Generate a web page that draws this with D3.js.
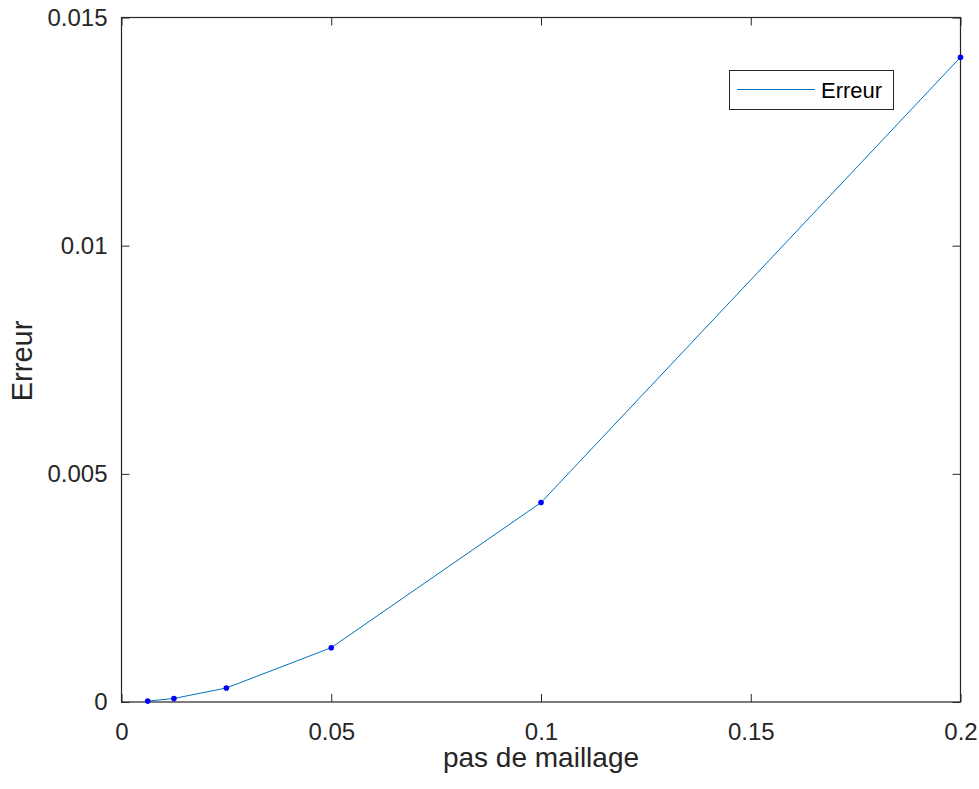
<!DOCTYPE html>
<html>
<head>
<meta charset="utf-8">
<script src="https://cdn.jsdelivr.net/npm/d3@7"></script>
<style>
  html, body { margin: 0; padding: 0; background: #fff; }
  svg { display: block; font-family: "Liberation Sans", Arial, sans-serif; }
</style>
</head>
<body>
<svg id="chart" width="979" height="789"></svg>
<script>
// Mesh step sizes and the corresponding error
const meshSteps = [0.00625, 0.0125, 0.025, 0.05, 0.1, 0.2];
const errors = [0.0000194, 0.0000775, 0.000307, 0.00119, 0.00437, 0.01413];
const xTicks = [0, 0.05, 0.1, 0.15, 0.2];
const yTicks = [0, 0.005, 0.01, 0.015];
const xTickLabels = ["0", "0.05", "0.1", "0.15", "0.2"];
const yTickLabels = ["0", "0.005", "0.01", "0.015"];
const seriesName = "Erreur";
const xLabel = "pas de maillage";
const yLabel = "Erreur";

(function () {
  const svg = d3.select("#chart");
  const pLeft = 121.5, pRight = 960.5, pTop = 17.5, pBottom = 702;

  const x = d3.scaleLinear().domain([0, 0.2]).range([pLeft, pRight]);
  const y = d3.scaleLinear().domain([0, 0.015]).range([pBottom, pTop]);

  const axisColor = "#262626";
  const tickLen = 8;

  // Plot box
  svg.append("rect")
    .attr("x", pLeft).attr("y", pTop)
    .attr("width", pRight - pLeft).attr("height", pBottom - pTop)
    .attr("fill", "#fff").attr("stroke", axisColor).attr("stroke-width", 1.2);

  // Axes with inward ticks on all four sides
  const fmtX = (d, i) => xTickLabels[i];
  const fmtY = (d, i) => yTickLabels[i];

  const gB = svg.append("g").attr("transform", `translate(0,${pBottom})`)
    .call(d3.axisBottom(x).tickValues(xTicks).tickFormat(fmtX).tickSizeInner(-tickLen).tickSizeOuter(0).tickPadding(21));
  const gT = svg.append("g").attr("transform", `translate(0,${pTop})`)
    .call(d3.axisTop(x).tickValues(xTicks).tickFormat("").tickSizeInner(-tickLen).tickSizeOuter(0));
  const gL = svg.append("g").attr("transform", `translate(${pLeft},0)`)
    .call(d3.axisLeft(y).tickValues(yTicks).tickFormat(fmtY).tickSizeInner(-tickLen).tickSizeOuter(0).tickPadding(14));
  const gR = svg.append("g").attr("transform", `translate(${pRight},0)`)
    .call(d3.axisRight(y).tickValues(yTicks).tickFormat("").tickSizeInner(-tickLen).tickSizeOuter(0));

  [gB, gT, gL, gR].forEach(g => {
    g.select(".domain").remove();
    g.selectAll(".tick line").attr("stroke", axisColor).attr("stroke-width", 1);
    g.selectAll(".tick text").attr("fill", axisColor).attr("font-size", 24)
      .attr("font-family", "'Liberation Sans', Arial, sans-serif");
  });

  // Error curve
  const line = d3.line().x((d, i) => x(meshSteps[i])).y(d => y(d));
  svg.append("path")
    .datum(errors)
    .attr("d", line)
    .attr("fill", "none")
    .attr("stroke", "#0072BD")
    .attr("stroke-width", 1);

  svg.append("g").selectAll("circle")
    .data(errors)
    .join("circle")
    .attr("cx", (d, i) => x(meshSteps[i]))
    .attr("cy", d => y(d))
    .attr("r", 2.8)
    .attr("fill", "#0000ff");

  // Axis labels
  svg.append("text")
    .attr("x", (pLeft + pRight) / 2).attr("y", 767)
    .attr("text-anchor", "middle")
    .attr("font-size", 28).attr("fill", axisColor)
    .text(xLabel);

  svg.append("text")
    .attr("transform", `translate(32,361) rotate(-90)`)
    .attr("text-anchor", "middle")
    .attr("font-size", 29).attr("fill", axisColor)
    .text(yLabel);

  // Legend
  const lg = svg.append("g");
  lg.append("rect")
    .attr("x", 729.5).attr("y", 70.5).attr("width", 164).attr("height", 39)
    .attr("fill", "#fff").attr("stroke", axisColor).attr("stroke-width", 1);
  lg.append("line")
    .attr("x1", 737).attr("x2", 815).attr("y1", 89.5).attr("y2", 89.5)
    .attr("stroke", "#0072BD").attr("stroke-width", 1);
  lg.append("text")
    .attr("x", 821).attr("y", 97.5)
    .attr("font-size", 22).attr("fill", "#000")
    .text(seriesName);
})();
</script>
</body>
</html>
